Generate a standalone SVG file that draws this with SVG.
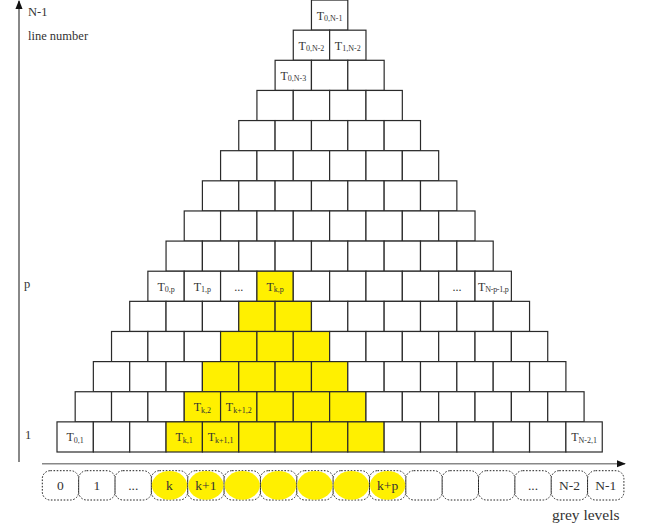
<svg xmlns="http://www.w3.org/2000/svg" width="648" height="529" viewBox="0 0 648 529">
<style>
.c{fill:#fff;stroke:#2a2a2a;stroke-width:1.2}
.y{fill:#FFF000;stroke:#2a2a2a;stroke-width:1.2}
.t{font-family:"Liberation Serif","Times New Roman",serif;font-size:12px;fill:#333;text-anchor:middle}
.s{font-size:8px}
.lab{font-family:"Liberation Serif","Times New Roman",serif;font-size:12.5px;fill:#333}
.gb{fill:none;stroke:#222;stroke-width:1;stroke-dasharray:1.6 1.6}
.ge{fill:#FFF000;stroke:none}
.gt{font-family:"Liberation Serif","Times New Roman",serif;font-size:13.5px;fill:#333;text-anchor:middle}
.ax{stroke:#888;fill:none}
</style>
<defs>
<marker id="ah" viewBox="0 0 10 10" refX="9" refY="5" markerWidth="9" markerHeight="9" markerUnits="userSpaceOnUse" orient="auto">
<path d="M0,1 L10,5 L0,9 Z" fill="#111"/>
</marker>
</defs>

<g id="connectors">
<line class="ax" x1="19" y1="462" x2="19" y2="1" stroke-width="2" marker-end="url(#ah)"/>
<line class="ax" x1="42" y1="463.8" x2="625" y2="463.8" stroke-width="1.5" marker-end="url(#ah)"/>
</g>

<g id="axis-labels">
<text class="lab" x="28" y="16">N-1</text>
<text class="lab" x="28" y="40">line number</text>
<text class="lab" x="24" y="288">p</text>
<text class="lab" x="25" y="439">1</text>
<text class="lab" x="552" y="520" style="font-size:15.5px">grey levels</text>
</g>

<g id="row15" transform="translate(311.45,0.05)">
<g id="c15-0"><rect class="c" x="0" y="0" width="36.35" height="30.13"/><text class="t" x="18.2" y="19.5">T<tspan class="s" dy="1.5">0,N-1</tspan></text></g>
</g>
<g id="row14" transform="translate(293.275,30.18)">
<g id="c14-0"><rect class="c" x="0" y="0" width="36.35" height="30.13"/><text class="t" x="18.2" y="19.5">T<tspan class="s" dy="1.5">0,N-2</tspan></text></g>
<g id="c14-1"><rect class="c" x="36.35" y="0" width="36.35" height="30.13"/><text class="t" x="54.5" y="19.5">T<tspan class="s" dy="1.5">1,N-2</tspan></text></g>
</g>
<g id="row13" transform="translate(275.1,60.31)">
<g id="c13-0"><rect class="c" x="0" y="0" width="36.35" height="30.13"/><text class="t" x="18.2" y="19.5">T<tspan class="s" dy="1.5">0,N-3</tspan></text></g>
<g id="c13-1"><rect class="c" x="36.35" y="0" width="36.35" height="30.13"/></g>
<g id="c13-2"><rect class="c" x="72.7" y="0" width="36.35" height="30.13"/></g>
</g>
<g id="row12" transform="translate(256.925,90.44)">
<g id="c12-0"><rect class="c" x="0" y="0" width="36.35" height="30.13"/></g>
<g id="c12-1"><rect class="c" x="36.35" y="0" width="36.35" height="30.13"/></g>
<g id="c12-2"><rect class="c" x="72.7" y="0" width="36.35" height="30.13"/></g>
<g id="c12-3"><rect class="c" x="109.05" y="0" width="36.35" height="30.13"/></g>
</g>
<g id="row11" transform="translate(238.75,120.57)">
<g id="c11-0"><rect class="c" x="0" y="0" width="36.35" height="30.13"/></g>
<g id="c11-1"><rect class="c" x="36.35" y="0" width="36.35" height="30.13"/></g>
<g id="c11-2"><rect class="c" x="72.7" y="0" width="36.35" height="30.13"/></g>
<g id="c11-3"><rect class="c" x="109.05" y="0" width="36.35" height="30.13"/></g>
<g id="c11-4"><rect class="c" x="145.4" y="0" width="36.35" height="30.13"/></g>
</g>
<g id="row10" transform="translate(220.575,150.7)">
<g id="c10-0"><rect class="c" x="0" y="0" width="36.35" height="30.13"/></g>
<g id="c10-1"><rect class="c" x="36.35" y="0" width="36.35" height="30.13"/></g>
<g id="c10-2"><rect class="c" x="72.7" y="0" width="36.35" height="30.13"/></g>
<g id="c10-3"><rect class="c" x="109.05" y="0" width="36.35" height="30.13"/></g>
<g id="c10-4"><rect class="c" x="145.4" y="0" width="36.35" height="30.13"/></g>
<g id="c10-5"><rect class="c" x="181.75" y="0" width="36.35" height="30.13"/></g>
</g>
<g id="row9" transform="translate(202.4,180.83)">
<g id="c9-0"><rect class="c" x="0" y="0" width="36.35" height="30.13"/></g>
<g id="c9-1"><rect class="c" x="36.35" y="0" width="36.35" height="30.13"/></g>
<g id="c9-2"><rect class="c" x="72.7" y="0" width="36.35" height="30.13"/></g>
<g id="c9-3"><rect class="c" x="109.05" y="0" width="36.35" height="30.13"/></g>
<g id="c9-4"><rect class="c" x="145.4" y="0" width="36.35" height="30.13"/></g>
<g id="c9-5"><rect class="c" x="181.75" y="0" width="36.35" height="30.13"/></g>
<g id="c9-6"><rect class="c" x="218.1" y="0" width="36.35" height="30.13"/></g>
</g>
<g id="row8" transform="translate(184.225,210.96)">
<g id="c8-0"><rect class="c" x="0" y="0" width="36.35" height="30.13"/></g>
<g id="c8-1"><rect class="c" x="36.35" y="0" width="36.35" height="30.13"/></g>
<g id="c8-2"><rect class="c" x="72.7" y="0" width="36.35" height="30.13"/></g>
<g id="c8-3"><rect class="c" x="109.05" y="0" width="36.35" height="30.13"/></g>
<g id="c8-4"><rect class="c" x="145.4" y="0" width="36.35" height="30.13"/></g>
<g id="c8-5"><rect class="c" x="181.75" y="0" width="36.35" height="30.13"/></g>
<g id="c8-6"><rect class="c" x="218.1" y="0" width="36.35" height="30.13"/></g>
<g id="c8-7"><rect class="c" x="254.45" y="0" width="36.35" height="30.13"/></g>
</g>
<g id="row7" transform="translate(166.05,241.09)">
<g id="c7-0"><rect class="c" x="0" y="0" width="36.35" height="30.13"/></g>
<g id="c7-1"><rect class="c" x="36.35" y="0" width="36.35" height="30.13"/></g>
<g id="c7-2"><rect class="c" x="72.7" y="0" width="36.35" height="30.13"/></g>
<g id="c7-3"><rect class="c" x="109.05" y="0" width="36.35" height="30.13"/></g>
<g id="c7-4"><rect class="c" x="145.4" y="0" width="36.35" height="30.13"/></g>
<g id="c7-5"><rect class="c" x="181.75" y="0" width="36.35" height="30.13"/></g>
<g id="c7-6"><rect class="c" x="218.1" y="0" width="36.35" height="30.13"/></g>
<g id="c7-7"><rect class="c" x="254.45" y="0" width="36.35" height="30.13"/></g>
<g id="c7-8"><rect class="c" x="290.8" y="0" width="36.35" height="30.13"/></g>
</g>
<g id="row6" transform="translate(147.875,271.22)">
<g id="c6-0"><rect class="c" x="0" y="0" width="36.35" height="30.13"/><text class="t" x="18.2" y="19.5">T<tspan class="s" dy="1.5">0,p</tspan></text></g>
<g id="c6-1"><rect class="c" x="36.35" y="0" width="36.35" height="30.13"/><text class="t" x="54.5" y="19.5">T<tspan class="s" dy="1.5">1,p</tspan></text></g>
<g id="c6-2"><rect class="c" x="72.7" y="0" width="36.35" height="30.13"/><text class="t" x="90.9" y="19.5">...</text></g>
<g id="c6-3"><rect class="y" x="109.05" y="0" width="36.35" height="30.13"/><text class="t" x="127.2" y="19.5">T<tspan class="s" dy="1.5">k,p</tspan></text></g>
<g id="c6-4"><rect class="c" x="145.4" y="0" width="36.35" height="30.13"/></g>
<g id="c6-5"><rect class="c" x="181.75" y="0" width="36.35" height="30.13"/></g>
<g id="c6-6"><rect class="c" x="218.1" y="0" width="36.35" height="30.13"/></g>
<g id="c6-7"><rect class="c" x="254.45" y="0" width="36.35" height="30.13"/></g>
<g id="c6-8"><rect class="c" x="290.8" y="0" width="36.35" height="30.13"/><text class="t" x="309" y="19.5">...</text></g>
<g id="c6-9"><rect class="c" x="327.15" y="0" width="36.35" height="30.13"/><text class="t" x="345.3" y="19.5">T<tspan class="s" dy="1.5" letter-spacing="-0.3">N-p-1,p</tspan></text></g>
</g>
<g id="row5" transform="translate(129.7,301.35)">
<g id="c5-0"><rect class="c" x="0" y="0" width="36.35" height="30.13"/></g>
<g id="c5-1"><rect class="c" x="36.35" y="0" width="36.35" height="30.13"/></g>
<g id="c5-2"><rect class="c" x="72.7" y="0" width="36.35" height="30.13"/></g>
<g id="c5-3"><rect class="y" x="109.05" y="0" width="36.35" height="30.13"/></g>
<g id="c5-4"><rect class="y" x="145.4" y="0" width="36.35" height="30.13"/></g>
<g id="c5-5"><rect class="c" x="181.75" y="0" width="36.35" height="30.13"/></g>
<g id="c5-6"><rect class="c" x="218.1" y="0" width="36.35" height="30.13"/></g>
<g id="c5-7"><rect class="c" x="254.45" y="0" width="36.35" height="30.13"/></g>
<g id="c5-8"><rect class="c" x="290.8" y="0" width="36.35" height="30.13"/></g>
<g id="c5-9"><rect class="c" x="327.15" y="0" width="36.35" height="30.13"/></g>
<g id="c5-10"><rect class="c" x="363.5" y="0" width="36.35" height="30.13"/></g>
</g>
<g id="row4" transform="translate(111.525,331.48)">
<g id="c4-0"><rect class="c" x="0" y="0" width="36.35" height="30.13"/></g>
<g id="c4-1"><rect class="c" x="36.35" y="0" width="36.35" height="30.13"/></g>
<g id="c4-2"><rect class="c" x="72.7" y="0" width="36.35" height="30.13"/></g>
<g id="c4-3"><rect class="y" x="109.05" y="0" width="36.35" height="30.13"/></g>
<g id="c4-4"><rect class="y" x="145.4" y="0" width="36.35" height="30.13"/></g>
<g id="c4-5"><rect class="y" x="181.75" y="0" width="36.35" height="30.13"/></g>
<g id="c4-6"><rect class="c" x="218.1" y="0" width="36.35" height="30.13"/></g>
<g id="c4-7"><rect class="c" x="254.45" y="0" width="36.35" height="30.13"/></g>
<g id="c4-8"><rect class="c" x="290.8" y="0" width="36.35" height="30.13"/></g>
<g id="c4-9"><rect class="c" x="327.15" y="0" width="36.35" height="30.13"/></g>
<g id="c4-10"><rect class="c" x="363.5" y="0" width="36.35" height="30.13"/></g>
<g id="c4-11"><rect class="c" x="399.85" y="0" width="36.35" height="30.13"/></g>
</g>
<g id="row3" transform="translate(93.35,361.61)">
<g id="c3-0"><rect class="c" x="0" y="0" width="36.35" height="30.13"/></g>
<g id="c3-1"><rect class="c" x="36.35" y="0" width="36.35" height="30.13"/></g>
<g id="c3-2"><rect class="c" x="72.7" y="0" width="36.35" height="30.13"/></g>
<g id="c3-3"><rect class="y" x="109.05" y="0" width="36.35" height="30.13"/></g>
<g id="c3-4"><rect class="y" x="145.4" y="0" width="36.35" height="30.13"/></g>
<g id="c3-5"><rect class="y" x="181.75" y="0" width="36.35" height="30.13"/></g>
<g id="c3-6"><rect class="y" x="218.1" y="0" width="36.35" height="30.13"/></g>
<g id="c3-7"><rect class="c" x="254.45" y="0" width="36.35" height="30.13"/></g>
<g id="c3-8"><rect class="c" x="290.8" y="0" width="36.35" height="30.13"/></g>
<g id="c3-9"><rect class="c" x="327.15" y="0" width="36.35" height="30.13"/></g>
<g id="c3-10"><rect class="c" x="363.5" y="0" width="36.35" height="30.13"/></g>
<g id="c3-11"><rect class="c" x="399.85" y="0" width="36.35" height="30.13"/></g>
<g id="c3-12"><rect class="c" x="436.2" y="0" width="36.35" height="30.13"/></g>
</g>
<g id="row2" transform="translate(75.175,391.74)">
<g id="c2-0"><rect class="c" x="0" y="0" width="36.35" height="30.13"/></g>
<g id="c2-1"><rect class="c" x="36.35" y="0" width="36.35" height="30.13"/></g>
<g id="c2-2"><rect class="c" x="72.7" y="0" width="36.35" height="30.13"/></g>
<g id="c2-3"><rect class="y" x="109.05" y="0" width="36.35" height="30.13"/><text class="t" x="127.2" y="19.5">T<tspan class="s" dy="1.5">k,2</tspan></text></g>
<g id="c2-4"><rect class="y" x="145.4" y="0" width="36.35" height="30.13"/><text class="t" x="163.6" y="19.5">T<tspan class="s" dy="1.5">k+1,2</tspan></text></g>
<g id="c2-5"><rect class="y" x="181.75" y="0" width="36.35" height="30.13"/></g>
<g id="c2-6"><rect class="y" x="218.1" y="0" width="36.35" height="30.13"/></g>
<g id="c2-7"><rect class="y" x="254.45" y="0" width="36.35" height="30.13"/></g>
<g id="c2-8"><rect class="c" x="290.8" y="0" width="36.35" height="30.13"/></g>
<g id="c2-9"><rect class="c" x="327.15" y="0" width="36.35" height="30.13"/></g>
<g id="c2-10"><rect class="c" x="363.5" y="0" width="36.35" height="30.13"/></g>
<g id="c2-11"><rect class="c" x="399.85" y="0" width="36.35" height="30.13"/></g>
<g id="c2-12"><rect class="c" x="436.2" y="0" width="36.35" height="30.13"/></g>
<g id="c2-13"><rect class="c" x="472.55" y="0" width="36.35" height="30.13"/></g>
</g>
<g id="row1" transform="translate(57,421.87)">
<g id="c1-0"><rect class="c" x="0" y="0" width="36.35" height="30.13"/><text class="t" x="18.2" y="19.5">T<tspan class="s" dy="1.5">0,1</tspan></text></g>
<g id="c1-1"><rect class="c" x="36.35" y="0" width="36.35" height="30.13"/></g>
<g id="c1-2"><rect class="c" x="72.7" y="0" width="36.35" height="30.13"/></g>
<g id="c1-3"><rect class="y" x="109.05" y="0" width="36.35" height="30.13"/><text class="t" x="127.2" y="19.5">T<tspan class="s" dy="1.5">k,1</tspan></text></g>
<g id="c1-4"><rect class="y" x="145.4" y="0" width="36.35" height="30.13"/><text class="t" x="163.6" y="19.5">T<tspan class="s" dy="1.5">k+1,1</tspan></text></g>
<g id="c1-5"><rect class="y" x="181.75" y="0" width="36.35" height="30.13"/></g>
<g id="c1-6"><rect class="y" x="218.1" y="0" width="36.35" height="30.13"/></g>
<g id="c1-7"><rect class="y" x="254.45" y="0" width="36.35" height="30.13"/></g>
<g id="c1-8"><rect class="y" x="290.8" y="0" width="36.35" height="30.13"/></g>
<g id="c1-9"><rect class="c" x="327.15" y="0" width="36.35" height="30.13"/></g>
<g id="c1-10"><rect class="c" x="363.5" y="0" width="36.35" height="30.13"/></g>
<g id="c1-11"><rect class="c" x="399.85" y="0" width="36.35" height="30.13"/></g>
<g id="c1-12"><rect class="c" x="436.2" y="0" width="36.35" height="30.13"/></g>
<g id="c1-13"><rect class="c" x="472.55" y="0" width="36.35" height="30.13"/></g>
<g id="c1-14"><rect class="c" x="508.9" y="0" width="36.35" height="30.13"/><text class="t" x="527.1" y="19.5">T<tspan class="s" dy="1.5">N-2,1</tspan></text></g>
</g>

<g id="grey-levels" transform="translate(42.3,470.7)">
<g id="g0"><rect class="gb" x="0" y="0" width="36.35" height="29.3" rx="8"/><text class="gt" x="18.2" y="19.5">0</text></g>
<g id="g1"><rect class="gb" x="36.35" y="0" width="36.35" height="29.3" rx="8"/><text class="gt" x="54.5" y="19.5">1</text></g>
<g id="g2"><rect class="gb" x="72.7" y="0" width="36.35" height="29.3" rx="8"/><text class="gt" x="90.9" y="19.5">...</text></g>
<g id="g3"><rect class="gb" x="109.05" y="0" width="36.35" height="29.3" rx="8"/><ellipse class="ge" cx="127.2" cy="14.65" rx="17.6" ry="14.4"/><text class="gt" x="127.2" y="19.5">k</text></g>
<g id="g4"><rect class="gb" x="145.4" y="0" width="36.35" height="29.3" rx="8"/><ellipse class="ge" cx="163.6" cy="14.65" rx="17.6" ry="14.4"/><text class="gt" x="163.6" y="19.5">k+1</text></g>
<g id="g5"><rect class="gb" x="181.75" y="0" width="36.35" height="29.3" rx="8"/><ellipse class="ge" cx="199.9" cy="14.65" rx="17.6" ry="14.4"/></g>
<g id="g6"><rect class="gb" x="218.1" y="0" width="36.35" height="29.3" rx="8"/><ellipse class="ge" cx="236.3" cy="14.65" rx="17.6" ry="14.4"/></g>
<g id="g7"><rect class="gb" x="254.45" y="0" width="36.35" height="29.3" rx="8"/><ellipse class="ge" cx="272.6" cy="14.65" rx="17.6" ry="14.4"/></g>
<g id="g8"><rect class="gb" x="290.8" y="0" width="36.35" height="29.3" rx="8"/><ellipse class="ge" cx="309" cy="14.65" rx="17.6" ry="14.4"/></g>
<g id="g9"><rect class="gb" x="327.15" y="0" width="36.35" height="29.3" rx="8"/><ellipse class="ge" cx="345.3" cy="14.65" rx="17.6" ry="14.4"/><text class="gt" x="345.3" y="19.5">k+p</text></g>
<g id="g10"><rect class="gb" x="363.5" y="0" width="36.35" height="29.3" rx="8"/></g>
<g id="g11"><rect class="gb" x="399.85" y="0" width="36.35" height="29.3" rx="8"/></g>
<g id="g12"><rect class="gb" x="436.2" y="0" width="36.35" height="29.3" rx="8"/></g>
<g id="g13"><rect class="gb" x="472.55" y="0" width="36.35" height="29.3" rx="8"/><text class="gt" x="490.7" y="19.5">...</text></g>
<g id="g14"><rect class="gb" x="508.9" y="0" width="36.35" height="29.3" rx="8"/><text class="gt" x="527.1" y="19.5">N-2</text></g>
<g id="g15"><rect class="gb" x="545.25" y="0" width="36.35" height="29.3" rx="8"/><text class="gt" x="563.4" y="19.5">N-1</text></g>
</g>
</svg>
